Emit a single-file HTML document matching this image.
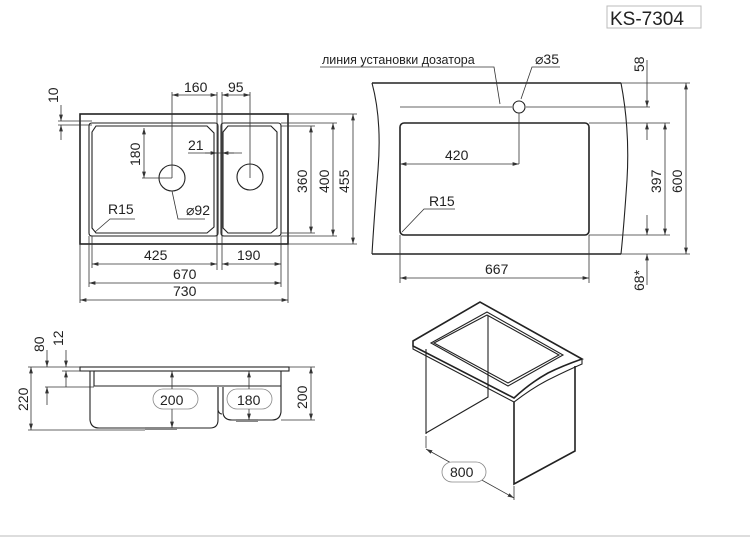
<!DOCTYPE html>
<html><head><meta charset="utf-8"><style>
html,body{margin:0;padding:0;background:#fff;}
svg{display:block;}
text{font-family:"Liberation Sans",Arial,sans-serif;font-size:14px;fill:#222;}
.d{stroke:#333;stroke-width:0.8;fill:none;}
.t{stroke:#222;stroke-width:1.6;fill:none;}
.m{stroke:#222;stroke-width:1.1;fill:none;}
</style></head><body>
<svg width="750" height="537" viewBox="0 0 750 537" xmlns="http://www.w3.org/2000/svg">
<defs>
<marker id="a" viewBox="0 0 10 6" refX="10" refY="3" markerWidth="8" markerHeight="5" orient="auto-start-reverse"><path d="M0,0 L10,3 L0,6 z" fill="#333"/></marker>
</defs>
<!-- Title -->
<rect x="607" y="6" width="94" height="22" fill="#fff" stroke="#bbb" stroke-width="1"/>
<text x="610" y="25" style="font-size:19px">KS-7304</text>

<!-- TOP VIEW -->
<rect x="80" y="114" width="208" height="130" class="t"/>
<path class="m" d="M92,123 H215 Q218,123 218,126 V233 Q218,236 215,236 H92 Q89,236 89,233 V126 Q89,123 92,123 Z"/>
<path class="m" d="M96,126 H207 L214,133 V227 L207,233 H96 L92,228 V132 Z"/>
<path class="m" d="M224,123 H278 Q281,123 281,126 V233 Q281,236 278,236 H224 Q221,236 221,233 V126 Q221,123 224,123 Z"/>
<path class="m" d="M228,126 H271 L277,132 V228 L271,233 H228 L223,228 V132 Z"/>
<circle cx="172" cy="178" r="13" class="m"/>
<circle cx="250" cy="177" r="13" class="m"/>
<!-- dims top -->
<path class="d" d="M172,92 V178 M217,92 V270 M222,92 V270 M250,92 V178"/>
<line x1="172" y1="95" x2="217" y2="95" class="d" marker-start="url(#a)" marker-end="url(#a)"/>
<text x="184" y="92">160</text>
<line x1="222" y1="95" x2="250" y2="95" class="d" marker-start="url(#a)" marker-end="url(#a)"/>
<text x="228" y="92">95</text>
<path class="d" d="M188,153 H242"/>
<line x1="205" y1="153" x2="217" y2="153" class="d" marker-end="url(#a)"/>
<line x1="234" y1="153" x2="222" y2="153" class="d" marker-end="url(#a)"/>
<text x="188" y="150">21</text>
<path class="d" d="M142,178 H172"/>
<line x1="144" y1="128" x2="144" y2="178" class="d" marker-start="url(#a)" marker-end="url(#a)"/>
<text transform="translate(140,166) rotate(-90)">180</text>
<text x="108" y="214">R15</text>
<path class="d" d="M95,232 L110,219 H135"/>
<text x="186" y="215">⌀92</text>
<path class="d" d="M172,191 L178,219 H205"/>
<!-- 10 -->
<path class="d" d="M58,121 H92 M58,125 H92"/>
<line x1="61" y1="105" x2="61" y2="121" class="d" marker-end="url(#a)"/>
<line x1="61" y1="140" x2="61" y2="125" class="d" marker-end="url(#a)"/>
<text transform="translate(58,103) rotate(-90)">10</text>
<!-- right dims -->
<path class="d" d="M281,126 H315 M281,233 H315 M281,123 H337 M281,236 H337 M288,114 H357 M288,244 H357"/>
<line x1="311" y1="126" x2="311" y2="233" class="d" marker-start="url(#a)" marker-end="url(#a)"/>
<text transform="translate(307,193) rotate(-90)">360</text>
<line x1="333" y1="123" x2="333" y2="236" class="d" marker-start="url(#a)" marker-end="url(#a)"/>
<text transform="translate(329,193) rotate(-90)">400</text>
<line x1="353" y1="114" x2="353" y2="244" class="d" marker-start="url(#a)" marker-end="url(#a)"/>
<text transform="translate(349,193) rotate(-90)">455</text>
<!-- bottom dims -->
<path class="d" d="M92,236 V268 M89,236 V287 M281,236 V287 M80,244 V303 M288,244 V303"/>
<line x1="92" y1="264" x2="217" y2="264" class="d" marker-start="url(#a)" marker-end="url(#a)"/>
<text x="144" y="260">425</text>
<line x1="222" y1="264" x2="281" y2="264" class="d" marker-start="url(#a)" marker-end="url(#a)"/>
<text x="237" y="260">190</text>
<line x1="89" y1="283" x2="281" y2="283" class="d" marker-start="url(#a)" marker-end="url(#a)"/>
<text x="173" y="279">670</text>
<line x1="80" y1="300" x2="288" y2="300" class="d" marker-start="url(#a)" marker-end="url(#a)"/>
<text x="173" y="296">730</text>

<!-- COUNTERTOP VIEW -->
<path class="t" d="M372,83 H621"/>
<path class="t" d="M372,254 H621"/>
<path class="m" d="M372,83 Q382,120 378,170 Q374,220 372,254"/>
<path class="m" d="M621,83 Q630,130 627,180 Q624,225 621,254"/>
<rect x="400" y="123" width="189" height="112" rx="4" class="t"/>
<path class="d" d="M400,107 H512 M526,107 H650"/>
<circle cx="519" cy="107" r="6" class="m"/>
<text x="322" y="64" style="font-size:12.5px">линия установки дозатора</text>
<path class="d" d="M320,67 H494 L500,104"/>
<text x="535" y="64">⌀35</text>
<path class="d" d="M560,67 H532 L521,99"/>
<path class="d" d="M519,113 V164"/>
<line x1="400" y1="164" x2="519" y2="164" class="d" marker-start="url(#a)" marker-end="url(#a)"/>
<text x="445" y="160">420</text>
<text x="429" y="206">R15</text>
<path class="d" d="M402,232 L424,209 H455"/>
<path class="d" d="M400,235 V283 M589,235 V283"/>
<line x1="400" y1="278" x2="589" y2="278" class="d" marker-start="url(#a)" marker-end="url(#a)"/>
<text x="485" y="274">667</text>
<path class="d" d="M589,123 H670 M589,235 H670 M621,83 H690 M621,254 H690"/>
<line x1="647" y1="60" x2="647" y2="107" class="d" marker-end="url(#a)"/>
<line x1="647" y1="140" x2="647" y2="123" class="d" marker-end="url(#a)"/>
<text transform="translate(644,72) rotate(-90)">58</text>
<line x1="647" y1="215" x2="647" y2="235" class="d" marker-end="url(#a)"/>
<line x1="647" y1="285" x2="647" y2="254" class="d" marker-end="url(#a)"/>
<text transform="translate(644,291) rotate(-90)">68*</text>
<line x1="665" y1="123" x2="665" y2="235" class="d" marker-start="url(#a)" marker-end="url(#a)"/>
<text transform="translate(661,193) rotate(-90)">397</text>
<line x1="686" y1="83" x2="686" y2="254" class="d" marker-start="url(#a)" marker-end="url(#a)"/>
<text transform="translate(682,193) rotate(-90)">600</text>

<!-- SIDE VIEW -->
<rect x="80" y="367" width="209" height="4" class="m"/>
<path class="m" d="M90,371 V420 Q91,428 99,428 H210 Q218,428 218,420 V387"/>
<path class="m" d="M94,371 V386 H281"/>
<path class="m" d="M218,387 V410 Q219,414 222,414"/>
<path class="m" d="M223,387 V413 Q224,420 232,420 H272 Q280,420 281,412 V371"/>
<rect x="145" y="427" width="32" height="3" fill="#888"/>
<rect x="236" y="419" width="22" height="3" fill="#888"/>
<rect x="153" y="389" width="45" height="20" rx="10" fill="#fff" stroke="#888" stroke-width="0.8"/>
<text x="160" y="405">200</text>
<rect x="227" y="389" width="45" height="20" rx="10" fill="#fff" stroke="#888" stroke-width="0.8"/>
<text x="237" y="405">180</text>
<line x1="172" y1="371" x2="172" y2="389" class="d" marker-start="url(#a)"/>
<line x1="172" y1="409" x2="172" y2="428" class="d" marker-end="url(#a)"/>
<line x1="249" y1="371" x2="249" y2="389" class="d" marker-start="url(#a)"/>
<line x1="249" y1="409" x2="249" y2="420" class="d" marker-end="url(#a)"/>
<path class="d" d="M28,367 H80 M62,371 H94 M45,387 H94 M28,430 H145 M281,420 H315 M289,367 H315"/>
<line x1="31" y1="367" x2="31" y2="430" class="d" marker-start="url(#a)" marker-end="url(#a)"/>
<text transform="translate(28,411) rotate(-90)">220</text>
<line x1="47" y1="350" x2="47" y2="367" class="d" marker-end="url(#a)"/>
<line x1="47" y1="405" x2="47" y2="387" class="d" marker-end="url(#a)"/>
<text transform="translate(44,352) rotate(-90)">80</text>
<line x1="66" y1="350" x2="66" y2="367" class="d" marker-end="url(#a)"/>
<line x1="66" y1="387" x2="66" y2="371" class="d" marker-end="url(#a)"/>
<text transform="translate(63,346) rotate(-90)">12</text>
<line x1="311" y1="367" x2="311" y2="420" class="d" marker-start="url(#a)" marker-end="url(#a)"/>
<text transform="translate(307,409) rotate(-90)">200</text>

<!-- ISO VIEW -->
<path class="t" d="M413,341 L480,302 L582,359 Q562,366 548,373 Q530,383 514,398 L413,346 Z" fill="#fff"/>
<path class="m" d="M413,346 V349 L514,402 Q535,386 552,378 Q566,371 582,364 V359"/>
<path class="m" d="M431,343 L487,312 L563,355 L508,386 Z"/>
<path class="m" d="M434,343 L487,315 L559,355 L508,383 Z"/>
<path class="m" d="M488,316 V397 L426,433 M426,349 V434"/>
<path class="t" d="M514,402 V484 L575,451 V366"/>
<path class="d" d="M426,436 V448 M514,486 V500"/>
<line x1="426" y1="449" x2="514" y2="498" class="d" marker-start="url(#a)" marker-end="url(#a)"/>
<rect x="442" y="462" width="44" height="20" rx="10" fill="#fff" stroke="#888" stroke-width="0.8"/>
<text x="450" y="477">800</text>

<line x1="0" y1="536" x2="750" y2="536" stroke="#ddd" stroke-width="2"/>
</svg>
</body></html>
